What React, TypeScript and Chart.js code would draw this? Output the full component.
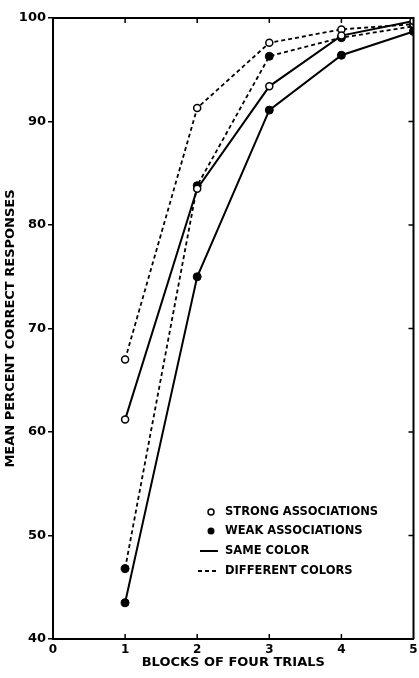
import React, { useEffect, useRef } from "react";
import { Chart, registerables } from "chart.js";

Chart.register(...registerables);

const blocks = [1, 2, 3, 4, 5];
const strongSame = [61.2, 83.5, 93.4, 98.3, 99.7];
const weakSame = [43.5, 75.0, 91.1, 96.4, 98.7];
const strongDiff = [67.0, 91.3, 97.6, 98.9, 99.4];
const weakDiff = [46.8, 83.8, 96.3, 98.1, 99.2];

const xTicks = [0, 1, 2, 3, 4, 5];
const yTicks = [40, 50, 60, 70, 80, 90, 100];
const legendLabels = [
  "STRONG ASSOCIATIONS",
  "WEAK ASSOCIATIONS",
  "SAME COLOR",
  "DIFFERENT COLORS",
];
const xTitle = "BLOCKS OF FOUR TRIALS";
const yTitle = "MEAN PERCENT CORRECT RESPONSES";

const FONT = "'DejaVu Sans', sans-serif";

const toPoints = (vals: number[]) => vals.map((v, i) => ({ x: blocks[i], y: v }));

const framePlugin = {
  id: "frame",
  afterDraw(chart: any) {
    const { ctx, chartArea } = chart;
    const xs = chart.scales.x;
    const ys = chart.scales.y;
    ctx.save();
    ctx.strokeStyle = "#000";
    ctx.lineWidth = 2;
    ctx.beginPath();
    ctx.moveTo(chartArea.left, chartArea.top);
    ctx.lineTo(chartArea.right, chartArea.top);
    ctx.lineTo(chartArea.right, chartArea.bottom);
    ctx.stroke();
    ctx.lineWidth = 1.5;
    for (const t of xTicks) {
      if (t === xTicks[0] || t === xTicks[xTicks.length - 1]) continue;
      const px = xs.getPixelForValue(t);
      ctx.beginPath();
      ctx.moveTo(px, chartArea.top);
      ctx.lineTo(px, chartArea.top + 5);
      ctx.moveTo(px, chartArea.bottom);
      ctx.lineTo(px, chartArea.bottom - 5);
      ctx.stroke();
    }
    for (const t of yTicks) {
      if (t === yTicks[0] || t === yTicks[yTicks.length - 1]) continue;
      const py = ys.getPixelForValue(t);
      ctx.beginPath();
      ctx.moveTo(chartArea.right, py);
      ctx.lineTo(chartArea.right - 5, py);
      ctx.stroke();
    }

    const lx = 211;
    const tx = 225;
    const rows = [512, 531, 551, 571];
    ctx.font = `bold 11.5px ${FONT}`;
    ctx.textBaseline = "middle";
    ctx.textAlign = "left";
    ctx.beginPath();
    ctx.lineWidth = 1.5;
    ctx.fillStyle = "#fff";
    ctx.arc(lx, rows[0], 3, 0, Math.PI * 2);
    ctx.fill();
    ctx.stroke();
    ctx.beginPath();
    ctx.fillStyle = "#000";
    ctx.arc(lx, rows[1], 3.5, 0, Math.PI * 2);
    ctx.fill();
    ctx.lineWidth = 2;
    ctx.beginPath();
    ctx.moveTo(200, rows[2]);
    ctx.lineTo(218, rows[2]);
    ctx.stroke();
    ctx.setLineDash([4, 3]);
    ctx.beginPath();
    ctx.moveTo(198, rows[3]);
    ctx.lineTo(219, rows[3]);
    ctx.stroke();
    ctx.setLineDash([]);
    legendLabels.forEach((l, i) => {
      ctx.fillText(l, tx, rows[i]);
    });
    ctx.restore();
  },
};

export default function App() {
  const ref = useRef<HTMLCanvasElement | null>(null);
  useEffect(() => {
    if (!ref.current) return;
    const solid = { borderColor: "#000", borderWidth: 2, fill: false, tension: 0 };
    const dashed = { ...solid, borderWidth: 1.8, borderDash: [4, 3] };
    const open = {
      pointRadius: 3.5,
      pointBackgroundColor: "#fff",
      pointBorderColor: "#000",
      pointBorderWidth: 1.5,
    };
    const filled = {
      pointRadius: 4,
      pointBackgroundColor: "#000",
      pointBorderColor: "#000",
      pointBorderWidth: 1,
    };
    const chart = new Chart(ref.current, {
      type: "line",
      data: {
        datasets: [
          { label: "Strong, same color", data: toPoints(strongSame), ...solid, ...open },
          { label: "Weak, same color", data: toPoints(weakSame), ...solid, ...filled },
          { label: "Strong, different colors", data: toPoints(strongDiff), ...dashed, ...open },
          { label: "Weak, different colors", data: toPoints(weakDiff), ...dashed, ...filled },
        ],
      },
      options: {
        animation: false,
        responsive: false,
        maintainAspectRatio: false,
        layout: { padding: { top: 18, right: 4, left: 0, bottom: 0 } },
        plugins: {
          legend: { display: false },
          tooltip: { enabled: false },
        },
        scales: {
          x: {
            type: "linear",
            min: 0,
            max: 5,
            afterBuildTicks: (s: any) => {
              s.ticks = xTicks.map((v) => ({ value: v }));
            },
            ticks: {
              color: "#000",
              font: { family: FONT, size: 12, weight: "bold" },
              padding: 4,
              maxRotation: 0,
            },
            grid: { display: true, drawOnChartArea: false, drawTicks: false, color: "#000" },
            border: { display: true, color: "#000", width: 2 },
            title: {
              display: true,
              text: xTitle,
              color: "#000",
              font: { family: FONT, size: 13, weight: "bold" },
              padding: { top: 0, bottom: 8 },
            },
            afterFit: (s: any) => {
              s.height = 39;
              s.paddingLeft = 0;
              s.paddingRight = 0;
            },
          },
          y: {
            type: "linear",
            min: 40,
            max: 100,
            afterBuildTicks: (s: any) => {
              s.ticks = yTicks.map((v) => ({ value: v }));
            },
            ticks: {
              color: "#000",
              font: { family: FONT, size: 13, weight: "bold" },
              padding: 2,
            },
            grid: {
              display: true,
              drawOnChartArea: false,
              drawTicks: true,
              tickLength: 5,
              color: "#000",
              lineWidth: 1.5,
            },
            border: { display: true, color: "#000", width: 2 },
            title: {
              display: true,
              text: yTitle,
              color: "#000",
              font: { family: FONT, size: 13, weight: "bold" },
              padding: { top: 3, bottom: 0 },
            },
            afterFit: (s: any) => {
              s.width = 53;
              s.paddingTop = 0;
              s.paddingBottom = 0;
            },
          },
        },
      },
      plugins: [framePlugin],
    });
    return () => chart.destroy();
  }, []);
  return (
    <div style={{ position: "fixed", left: 0, top: 0, width: 419, height: 678, background: "#fff" }}>
      <canvas ref={ref} width={419} height={678} style={{ width: 419, height: 678, display: "block" }} />
    </div>
  );
}
